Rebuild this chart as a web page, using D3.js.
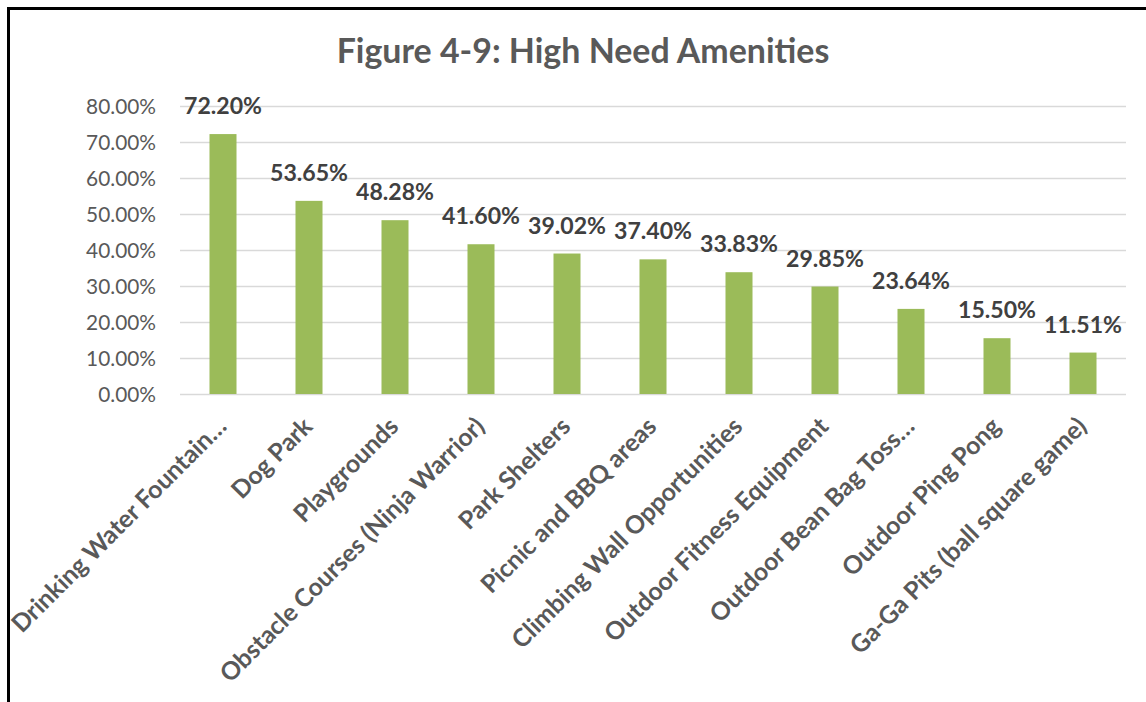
<!DOCTYPE html>
<html>
<head>
<meta charset="utf-8">
<script src="https://cdn.jsdelivr.net/npm/d3@7"></script>
<style>
  html, body { margin: 0; padding: 0; background: #fff; }
  svg { display: block; }
</style>
</head>
<body>
<svg id="chart" width="1146" height="702"></svg>
<script>
const titleText = "Figure 4-9: High Need Amenities";
const categories = [
  "Drinking Water Fountain…",
  "Dog Park",
  "Playgrounds",
  "Obstacle Courses (Ninja Warrior)",
  "Park Shelters",
  "Picnic and BBQ areas",
  "Climbing Wall Opportunities",
  "Outdoor Fitness Equipment",
  "Outdoor Bean Bag Toss…",
  "Outdoor Ping Pong",
  "Ga-Ga Pits (ball square game)"
];
const values = [72.20, 53.65, 48.28, 41.60, 39.02, 37.40, 33.83, 29.85, 23.64, 15.50, 11.51];
const yTicks = [0, 10, 20, 30, 40, 50, 60, 70, 80];

(function () {
const FONT = "Lato, 'Open Sans', sans-serif";
const svg = d3.select("#chart");

function fitSize(text, weight, target) {
  const t = svg.append("text").attr("font-family", FONT).attr("font-weight", weight)
    .attr("font-size", 100).text(text);
  const w = t.node().getComputedTextLength();
  t.remove();
  return 100 * target / w;
}

const pLeft = 180, pRight = 1126, pTop = 106, pBottom = 394;
const x = d3.scaleBand().domain(categories).range([pLeft, pRight]).padding(0);
const y = d3.scaleLinear().domain([0, 80]).range([pBottom, pTop]);
const barW = x.bandwidth() * 0.314;

// border
svg.append("line").attr("x1", 7).attr("x2", 1146).attr("y1", 8.5).attr("y2", 8.5)
  .attr("stroke", "#000").attr("stroke-width", 3);
svg.append("line").attr("x1", 8.5).attr("x2", 8.5).attr("y1", 7).attr("y2", 702)
  .attr("stroke", "#000").attr("stroke-width", 3);

// title
const titleSize = fitSize(titleText, "bold", 493);
svg.append("text").attr("x", 583).attr("y", 63).attr("text-anchor", "middle")
  .attr("font-family", FONT).attr("font-weight", "bold").attr("font-size", titleSize)
  .attr("fill", "#595959").text(titleText);

// gridlines + y labels
const yAxis = d3.axisLeft(y).tickValues(yTicks).tickSize(-(pRight - pLeft))
  .tickFormat(d => d.toFixed(2) + "%").tickPadding(24);
const tickSize = fitSize("80.00%", "normal", 70);
const gy = svg.append("g").attr("transform", `translate(${pLeft},0)`).call(yAxis);
gy.select(".domain").remove();
gy.selectAll(".tick line").attr("stroke", "#d9d9d9").attr("stroke-width", 1.6);
gy.selectAll(".tick text").attr("font-family", FONT).attr("font-size", tickSize)
  .attr("fill", "#595959").attr("dy", "0.34em");

// bars
svg.append("g").selectAll("rect").data(values).join("rect")
  .attr("x", (d, i) => x(categories[i]) + x.bandwidth() / 2 - barW / 2)
  .attr("width", barW)
  .attr("y", d => y(d))
  .attr("height", d => pBottom - y(d))
  .attr("fill", "#9BBB59");

// data labels
const labSize = fitSize("72.20%", "bold", 78);
svg.append("g").selectAll("text").data(values).join("text")
  .attr("x", (d, i) => x(categories[i]) + x.bandwidth() / 2)
  .attr("y", d => y(d) - 20)
  .attr("text-anchor", "middle")
  .attr("font-family", FONT).attr("font-weight", "bold").attr("font-size", labSize)
  .attr("fill", "#404040")
  .text(d => d.toFixed(2) + "%");

// category labels
const catSize = fitSize("Outdoor Fitness Equipment", "bold", 305);
svg.append("g").selectAll("text").data(categories).join("text")
  .attr("transform", d => `translate(${x(d) + x.bandwidth() / 2 + 5},${428}) rotate(-45)`)
  .attr("text-anchor", "end")
  .attr("font-family", FONT).attr("font-weight", "bold").attr("font-size", catSize)
  .attr("fill", "#595959")
  .text(d => d);
})();
</script>
</body>
</html>
